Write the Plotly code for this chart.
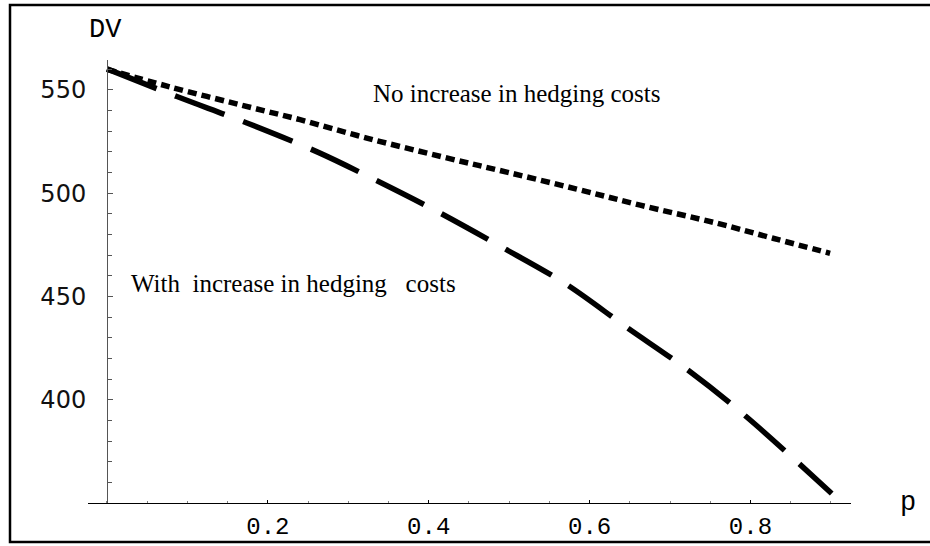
import plotly.graph_objects as go

# Data
p_no = [0.0, 0.078, 0.181, 0.24, 0.323, 0.418, 0.497, 0.584, 0.663, 0.758, 0.828, 0.899]
dv_no = [560.0, 551.5, 541.3, 535.6, 526.7, 517.5, 510.2, 502.0, 494.2, 485.5, 478.2, 470.9]

p_with = [0.0, 0.087, 0.174, 0.262, 0.324, 0.405, 0.489, 0.569, 0.646, 0.721, 0.793, 0.901]
dv_with = [560.2, 546.8, 534.0, 519.9, 508.3, 492.3, 474.3, 456.4, 435.1, 414.7, 392.4, 354.6]

y_ticks = [400, 450, 500, 550]
x_ticks = [0.2, 0.4, 0.6, 0.8]
x_tick_text = ["0.2", "0.4", "0.6", "0.8"]

W, H = 930, 546
L, R, T, B = 88, 79, 60, 43

fig = go.Figure()
fig.add_trace(go.Scatter(x=p_no, y=dv_no, mode="lines", line_shape="spline",
                         line=dict(color="black", width=5.5, dash="9px,5px"),
                         hoverinfo="skip", showlegend=False))
fig.add_trace(go.Scatter(x=p_with, y=dv_with, mode="lines", line_shape="spline",
                         line=dict(color="black", width=5.5, dash="53px,20px"),
                         hoverinfo="skip", showlegend=False))

pw = W - L - R
ph = H - T - B
def px2paperx(px):
    return (px - L) / pw
def px2papery(py):
    return (H - B - py) / ph

x0 = -0.0236
x1 = 0.925
ypos = (0 - x0) / (x1 - x0)

mono = "Courier New, Liberation Mono, monospace"
serif = "Liberation Serif, Times New Roman, serif"

fig.update_layout(
    width=W, height=H, autosize=False,
    margin=dict(l=L, r=R, t=T, b=B, pad=0),
    paper_bgcolor="white", plot_bgcolor="white",
    xaxis=dict(range=[x0, x1], showgrid=False, zeroline=False, automargin=False,
               showline=True, linecolor="black", linewidth=1,
               tickmode="array", tickvals=x_ticks, ticktext=x_tick_text,
               ticks="inside", ticklen=3, tickcolor="black", tickwidth=1,
               minor=dict(ticks="inside", dtick=0.05, ticklen=2, tickcolor="gray"),
               tickfont=dict(family=mono, size=24, color="black"),
               ticklabelstandoff=1, fixedrange=True),
    yaxis=dict(range=[350, 564.5], showgrid=False, zeroline=False, automargin=False,
               anchor="free", position=ypos,
               showline=True, linecolor="#555555", linewidth=1,
               tickmode="array", tickvals=y_ticks,
               ticks="inside", ticklen=5, tickcolor="#555555", tickwidth=1,
               minor=dict(ticks="inside", dtick=10, ticklen=4, tickcolor="#555555"),
               tickfont=dict(family="DejaVu Sans", size=24, color="#111111"),
               ticklabelstandoff=16, fixedrange=True),
    annotations=[
        dict(text="DV", xref="paper", yref="paper", x=px2paperx(105), y=px2papery(30),
             xanchor="center", yanchor="middle", showarrow=False,
             font=dict(family=mono, size=27, color="black")),
        dict(text="p", xref="paper", yref="paper", x=px2paperx(908), y=px2papery(503),
             xanchor="center", yanchor="middle", showarrow=False,
             font=dict(family=mono, size=27, color="black")),
        dict(text="No increase in hedging costs", xref="paper", yref="paper",
             x=px2paperx(516), y=px2papery(94), xanchor="center", yanchor="middle",
             showarrow=False, font=dict(family=serif, size=25, color="black")),
        dict(text="With\u00a0 increase in hedging\u00a0\u00a0 costs", xref="paper", yref="paper",
             x=px2paperx(293), y=px2papery(283), xanchor="center", yanchor="middle",
             showarrow=False, font=dict(family=serif, size=25, color="black")),
    ],
    shapes=[
        dict(type="path", xref="paper", yref="paper",
             path=f"M {px2paperx(940)},{px2papery(5)} L {px2paperx(10)},{px2papery(5)} "
                  f"L {px2paperx(10)},{px2papery(542)} L {px2paperx(940)},{px2papery(542)}",
             line=dict(color="black", width=2.5)),
    ],
)

fig.write_html("out.html",
               config={"responsive": False, "displayModeBar": False},
               post_script="document.body.style.margin='0';document.body.style.overflow='hidden';")
